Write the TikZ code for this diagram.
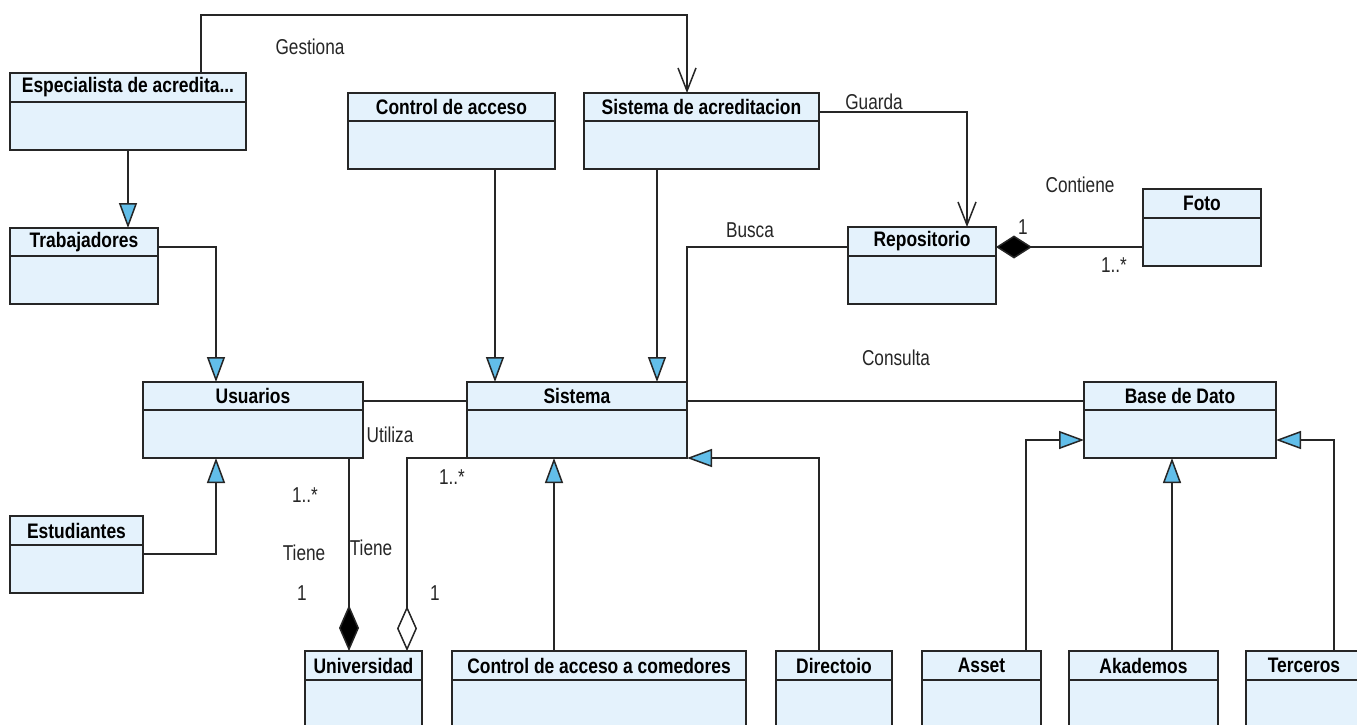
\documentclass[tikz,border=0pt]{standalone}
\usepackage{fontspec}
\setmainfont{Liberation Sans}
\newfontfamily\titlefont{Liberation Sans}[FakeStretch=0.83]
\newfontfamily\labelfont{Liberation Sans}[FakeStretch=0.8]
\usetikzlibrary{arrows.meta}

\definecolor{boxfill}{HTML}{E4F2FC}
\definecolor{tipblue}{HTML}{62BEE9}
\definecolor{ink}{HTML}{262626}

\tikzset{
  clsbox/.style={draw=ink, fill=boxfill, line width=1.6pt, inner sep=0pt, outer sep=0pt},
  clsline/.style={draw=ink, line width=1.6pt},
  clstitle/.style={inner sep=0pt, text=black, font=\titlefont\bfseries\fontsize{21}{24}\selectfont},
  lbl/.style={inner sep=0pt, font=\labelfont\fontsize{21.5}{24}\selectfont, text=ink},
  conn/.style={draw=ink, line width=1.5pt},
  gen/.style={conn, -{Triangle[length=25pt, width=18pt, fill=tipblue]}},
  nav/.style={conn, -{Straight Barb[length=23pt, width=18pt]}},
  compv/.style={conn, -{Diamond[length=46pt, width=20pt, fill=black]}},
  aggv/.style={conn, -{Diamond[length=45pt, width=20pt, fill=white]}},
  comph/.style={conn, -{Diamond[length=36pt, width=23pt, fill=black]}},
}

% #1 name, #2 left, #3 top, #4 right, #5 bottom, #6 header rule, #7 title
\newcommand\classbox[7]{%
  \node[clsbox, anchor=north west, minimum width={#4-#2}, minimum height={#5-#3}] (#1) at (#2,#3) {};
  \draw[clsline] (#1.west |- 0,#6) -- (#1.east |- 0,#6);
  \node[clstitle] (#1-t) at ({(#2+#4)/2},{(#3+#6)/2}) {#7};
}

\begin{document}
\begin{tikzpicture}[x=1pt, y=-1pt]
\useasboundingbox (0,0) rectangle (1357,724);
\fill[white] (0,0) rectangle (1357,724);
\clip (0,0) rectangle (1357,724);

% classes
\classbox{esp}{10}{73}{246}{150}{102}{Especialista de acredita...}
\classbox{trab}{10}{228}{158}{304}{256}{Trabajadores}
\classbox{usu}{143}{382}{363}{458}{410}{Usuarios}
\classbox{est}{10}{516}{143}{593}{545}{Estudiantes}
\classbox{ctl}{348}{93}{555}{169}{121}{Control de acceso}
\classbox{sac}{584}{93}{819}{169}{121}{Sistema de acreditacion}
\classbox{sis}{467}{382}{687}{458}{410}{Sistema}
\classbox{rep}{848}{227}{996}{304}{256}{Repositorio}
\classbox{foto}{1143}{189}{1261}{266}{218}{Foto}
\classbox{bd}{1084}{382}{1276}{458}{410}{Base de Dato}
\classbox{uni}{305}{651}{422}{760}{680}{Universidad}
\classbox{com}{452}{651}{746}{760}{680}{Control de acceso a comedores}
\classbox{dir}{776}{651}{892}{760}{680}{Directoio}
\classbox{ast}{922}{651}{1041}{760}{680}{Asset}
\classbox{aka}{1069}{651}{1218}{760}{680}{Akademos}
\classbox{ter}{1246}{651}{1362}{760}{680}{Terceros}

% associations
\draw[nav] (esp.north -| 201,0) |- (687,15) -- (sac.north -| 687,0);
\draw[nav] (sac.east |- 0,112) -| (rep.north -| 967,0);
\draw[conn] (rep.west |- 0,247) -| (sis.north east);
\draw[comph] (foto.west |- 0,247) -- (rep.east |- 0,247);
\draw[conn] (usu.east |- 0,401) -- (sis.west |- 0,401);
\draw[conn] (sis.east |- 0,401) -- (bd.west |- 0,401);
\draw[compv] (usu.south -| 349,0) -- (uni.north -| 349,0);
\draw[aggv] (sis.south west) -| (uni.north -| 407,0);

% generalizations
\draw[gen] (esp.south) -- (trab.north -| esp.south);
\draw[gen] (trab.east |- 0,247) -| (usu.north -| 216,0);
\draw[gen] (est.east |- 0,554) -| (usu.south -| 216,0);
\draw[gen] (ctl.south -| 495,0) -- (sis.north -| 495,0);
\draw[gen] (sac.south -| 657,0) -- (sis.north -| 657,0);
\draw[gen] (com.north -| 554,0) -- (sis.south -| 554,0);
\draw[gen] (dir.north -| 819,0) |- (sis.south east);
\draw[gen] (ast.north -| 1026,0) |- (bd.west |- 0,440);
\draw[gen] (aka.north -| 1172,0) -- (bd.south -| 1172,0);
\draw[gen] (ter.north -| 1334,0) |- (bd.east |- 0,440);

% labels
\node[lbl] (l-gest) at (310,47) {Gestiona};
\node[lbl] (l-guar) at (874,102) {Guarda};
\node[lbl] (l-cont) at (1080,185) {Contiene};
\node[lbl] (l-c1) at (1023,227) {1};
\node[lbl] (l-cn) at (1114,265) {1..*};
\node[lbl] (l-busc) at (750,230) {Busca};
\node[lbl] (l-cons) at (896,358) {Consulta};
\node[lbl] (l-util) at (390,435) {Utiliza};
\node[lbl] (l-un) at (305,495) {1..*};
\node[lbl] (l-t1) at (304,553) {Tiene};
\node[lbl] (l-u1) at (302,593) {1};
\node[lbl] (l-t2) at (371,548) {Tiene};
\node[lbl] (l-sn) at (452,477) {1..*};
\node[lbl] (l-s1) at (435,593) {1};
\end{tikzpicture}
\end{document}
